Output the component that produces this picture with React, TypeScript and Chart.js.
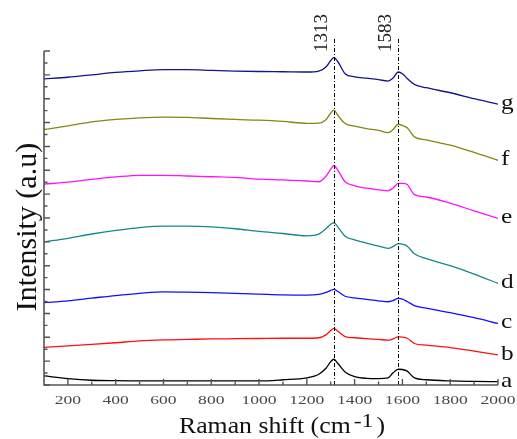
import React, { useEffect, useRef } from "react";
import { Chart, registerables } from "chart.js";

Chart.register(...registerables);

// Raman shift positions (cm-1)
const SHIFTS = [100, 200, 300, 400, 500, 600, 700, 800, 900, 1000, 1100, 1200, 1250, 1280, 1300, 1313, 1330, 1360, 1400, 1450, 1500, 1540, 1560, 1583, 1600, 1620, 1650, 1700, 1800, 1900, 2000];

// Stacked intensities (a.u.)
const SERIES_A = [0.38, 0.27, 0.2, 0.18, 0.17, 0.17, 0.17, 0.17, 0.17, 0.17, 0.22, 0.3, 0.45, 0.7, 0.98, 1.08, 0.9, 0.55, 0.35, 0.28, 0.27, 0.3, 0.5, 0.66, 0.65, 0.58, 0.3, 0.22, 0.17, 0.15, 0.14];
const SERIES_B = [1.58, 1.64, 1.7, 1.77, 1.85, 1.89, 1.91, 1.93, 1.94, 1.95, 1.96, 1.96, 1.98, 2.1, 2.28, 2.37, 2.25, 2.03, 1.98, 1.94, 1.91, 1.88, 1.93, 2.02, 2.01, 1.96, 1.74, 1.67, 1.57, 1.42, 1.26];
const SERIES_C = [3.45, 3.53, 3.64, 3.75, 3.84, 3.9, 3.89, 3.87, 3.84, 3.81, 3.78, 3.77, 3.8, 3.88, 3.97, 4.01, 3.92, 3.72, 3.65, 3.59, 3.53, 3.49, 3.54, 3.63, 3.6, 3.5, 3.33, 3.22, 3.03, 2.82, 2.58];
const SERIES_D = [6.0, 6.15, 6.33, 6.48, 6.6, 6.66, 6.66, 6.63, 6.55, 6.44, 6.35, 6.25, 6.32, 6.55, 6.74, 6.8, 6.62, 6.24, 6.08, 5.95, 5.82, 5.73, 5.8, 5.93, 5.9, 5.82, 5.5, 5.3, 5.0, 4.65, 4.26];
const SERIES_E = [8.42, 8.5, 8.62, 8.72, 8.79, 8.79, 8.76, 8.73, 8.7, 8.63, 8.6, 8.55, 8.52, 8.75, 9.05, 9.2, 9.0, 8.52, 8.35, 8.25, 8.18, 8.14, 8.25, 8.45, 8.45, 8.4, 7.98, 7.88, 7.62, 7.3, 6.98];
const SERIES_F = [10.71, 10.86, 11.03, 11.13, 11.2, 11.23, 11.22, 11.17, 11.13, 11.1, 11.05, 10.97, 10.98, 11.12, 11.4, 11.52, 11.3, 10.96, 10.85, 10.75, 10.67, 10.58, 10.7, 10.93, 10.88, 10.78, 10.4, 10.27, 10.05, 9.75, 9.42];
const SERIES_G = [12.83, 12.9, 13.0, 13.1, 13.17, 13.22, 13.22, 13.19, 13.16, 13.14, 13.13, 13.12, 13.16, 13.33, 13.6, 13.72, 13.55, 13.05, 12.92, 12.86, 12.8, 12.74, 12.86, 13.12, 13.05, 12.85, 12.6, 12.46, 12.25, 12.0, 11.77];

const SERIES = [SERIES_A, SERIES_B, SERIES_C, SERIES_D, SERIES_E, SERIES_F, SERIES_G];
const SERIES_LABELS = ["a", "b", "c", "d", "e", "f", "g"];
const SERIES_COLORS = ["#000000", "#ff1010", "#1010ff", "#148888", "#ff10ff", "#868610", "#14148a"];

const PEAKS = [1313, 1583];
const PEAK_LABELS = ["1313", "1583"];

const X_MIN = 100;
const X_MAX = 2000;
const X_MAJOR_TICKS = [200, 400, 600, 800, 1000, 1200, 1400, 1600, 1800, 2000];
const X_MINOR_TICKS = [300, 500, 700, 900, 1100, 1300, 1500, 1700, 1900];
const Y_MIN = 0;
const Y_MAX = 14;
const Y_MAJOR_TICKS = [0, 1, 2, 3, 4, 5, 6, 7, 8, 9, 10, 11, 12, 13, 14];
const Y_MINOR_TICKS = [0.5, 1.5, 2.5, 3.5, 4.5, 5.5, 6.5, 7.5, 8.5, 9.5, 10.5, 11.5, 12.5, 13.5];

const X_TITLE_MAIN = "Raman shift (cm";
const X_TITLE_SUP = "-1";
const X_TITLE_END = ")";
const Y_TITLE = "Intensity (a.u)";

const SERIF = "'Liberation Serif', 'Times New Roman', serif";

function drawScaledText(ctx: CanvasRenderingContext2D, text: string, x: number, y: number, font: string, sx: number, align: string, color: string) {
  ctx.save();
  ctx.font = font;
  const w = ctx.measureText(text).width * sx;
  const left = align === "center" ? x - w / 2 : align === "right" ? x - w : x;
  ctx.translate(left, y);
  ctx.scale(sx, 1);
  ctx.textAlign = "left";
  ctx.textBaseline = "alphabetic";
  ctx.fillStyle = color;
  ctx.fillText(text, 0, 0);
  ctx.restore();
  return w;
}

const decorPlugin = {
  id: "decor",
  afterDraw(chart: any) {
    const ctx: CanvasRenderingContext2D = chart.ctx;
    const xs = chart.scales.x;
    const ys = chart.scales.y;
    const area = chart.chartArea;
    ctx.save();

    // peak marker lines
    ctx.strokeStyle = "#000";
    ctx.lineWidth = 1;
    ctx.setLineDash([4, 2, 1, 2]);
    PEAKS.forEach((p, i) => {
      const px = Math.round(xs.getPixelForValue(p)) + 0.5;
      ctx.beginPath();
      ctx.moveTo(px, area.top - 12);
      ctx.lineTo(px, area.bottom);
      ctx.stroke();
      ctx.save();
      ctx.translate(px - 3, area.top + 1);
      ctx.rotate(-Math.PI / 2);
      ctx.font = `19px ${SERIF}`;
      ctx.fillStyle = "#222";
      ctx.textAlign = "left";
      ctx.textBaseline = "bottom";
      ctx.fillText(PEAK_LABELS[i], 0, 0);
      ctx.restore();
    });
    ctx.setLineDash([]);

    // axes
    ctx.strokeStyle = "#555";
    ctx.lineWidth = 1.6;
    ctx.beginPath();
    ctx.moveTo(area.left, area.top);
    ctx.lineTo(area.left, area.bottom);
    ctx.lineTo(area.right, area.bottom);
    ctx.stroke();

    ctx.lineWidth = 1.4;
    ctx.beginPath();
    Y_MAJOR_TICKS.forEach((v) => {
      const py = ys.getPixelForValue(v);
      ctx.moveTo(area.left, py);
      ctx.lineTo(area.left + 6, py);
    });
    Y_MINOR_TICKS.forEach((v) => {
      const py = ys.getPixelForValue(v);
      ctx.moveTo(area.left, py);
      ctx.lineTo(area.left + 3.5, py);
    });
    X_MAJOR_TICKS.forEach((v) => {
      const px = xs.getPixelForValue(v);
      ctx.moveTo(px, area.bottom);
      ctx.lineTo(px, area.bottom - 6);
    });
    X_MINOR_TICKS.forEach((v) => {
      const px = xs.getPixelForValue(v);
      ctx.moveTo(px, area.bottom);
      ctx.lineTo(px, area.bottom - 3.5);
    });
    ctx.stroke();

    // x tick labels
    X_MAJOR_TICKS.forEach((v) => {
      const px = xs.getPixelForValue(v);
      drawScaledText(ctx, String(v), px, area.bottom + 18.5, `13.5px ${SERIF}`, 1.3, "center", "#4a4a4a");
    });

    // series letters
    SERIES.forEach((s, i) => {
      const py = ys.getPixelForValue(s[s.length - 1]);
      drawScaledText(ctx, SERIES_LABELS[i], area.right + 3, py + 5, `22px ${SERIF}`, 1.15, "left", "#111");
    });

    // x title with superscript
    const mainFont = `23px ${SERIF}`;
    const supFont = `19px ${SERIF}`;
    const sx = 1.12;
    const ssx = 1.25;
    ctx.font = mainFont;
    const w1 = ctx.measureText(X_TITLE_MAIN).width * sx;
    const w3 = ctx.measureText(X_TITLE_END).width * sx;
    ctx.font = supFont;
    const w2 = ctx.measureText(X_TITLE_SUP).width * ssx;
    const total = w1 + w2 + w3 + 6;
    const cx = (area.left + area.right) / 2 + 11;
    let tx = cx - total / 2;
    const base = area.bottom + 48;
    tx += drawScaledText(ctx, X_TITLE_MAIN, tx, base, mainFont, sx, "left", "#111") + 3;
    tx += drawScaledText(ctx, X_TITLE_SUP, tx, base - 6, supFont, ssx, "left", "#111") + 3;
    drawScaledText(ctx, X_TITLE_END, tx, base, mainFont, sx, "left", "#111");

    // y title
    ctx.save();
    ctx.translate(36, (area.top + area.bottom) / 2 + 9);
    ctx.rotate(-Math.PI / 2);
    ctx.font = `30px ${SERIF}`;
    ctx.fillStyle = "#111";
    ctx.textAlign = "center";
    ctx.textBaseline = "alphabetic";
    ctx.fillText(Y_TITLE, 0, 0);
    ctx.restore();

    ctx.restore();
  },
};

export default function App() {
  const ref = useRef<HTMLCanvasElement | null>(null);
  useEffect(() => {
    if (!ref.current) return;
    const datasets = SERIES.map((s, i) => ({
      label: SERIES_LABELS[i],
      data: SHIFTS.map((x, j) => ({ x, y: s[j] })),
      borderColor: SERIES_COLORS[i],
      backgroundColor: SERIES_COLORS[i],
      borderWidth: 1.3,
      pointRadius: 0,
      cubicInterpolationMode: "monotone" as const,
      fill: false,
    }));
    const chart = new Chart(ref.current, {
      type: "line",
      data: { datasets },
      options: {
        animation: false,
        responsive: false,
        events: [],
        layout: { padding: { left: 44, right: 19, top: 51, bottom: 54 } },
        plugins: { legend: { display: false }, tooltip: { enabled: false }, title: { display: false } },
        scales: {
          x: { type: "linear", min: X_MIN, max: X_MAX, display: false },
          y: { type: "linear", min: Y_MIN, max: Y_MAX, display: false },
        },
      },
      plugins: [decorPlugin],
    });
    return () => chart.destroy();
  }, []);
  return (
    <div style={{ position: "absolute", left: 0, top: 0, width: 517, height: 439, background: "#fff" }}>
      <canvas ref={ref} width={517} height={439} style={{ display: "block" }} />
    </div>
  );
}
